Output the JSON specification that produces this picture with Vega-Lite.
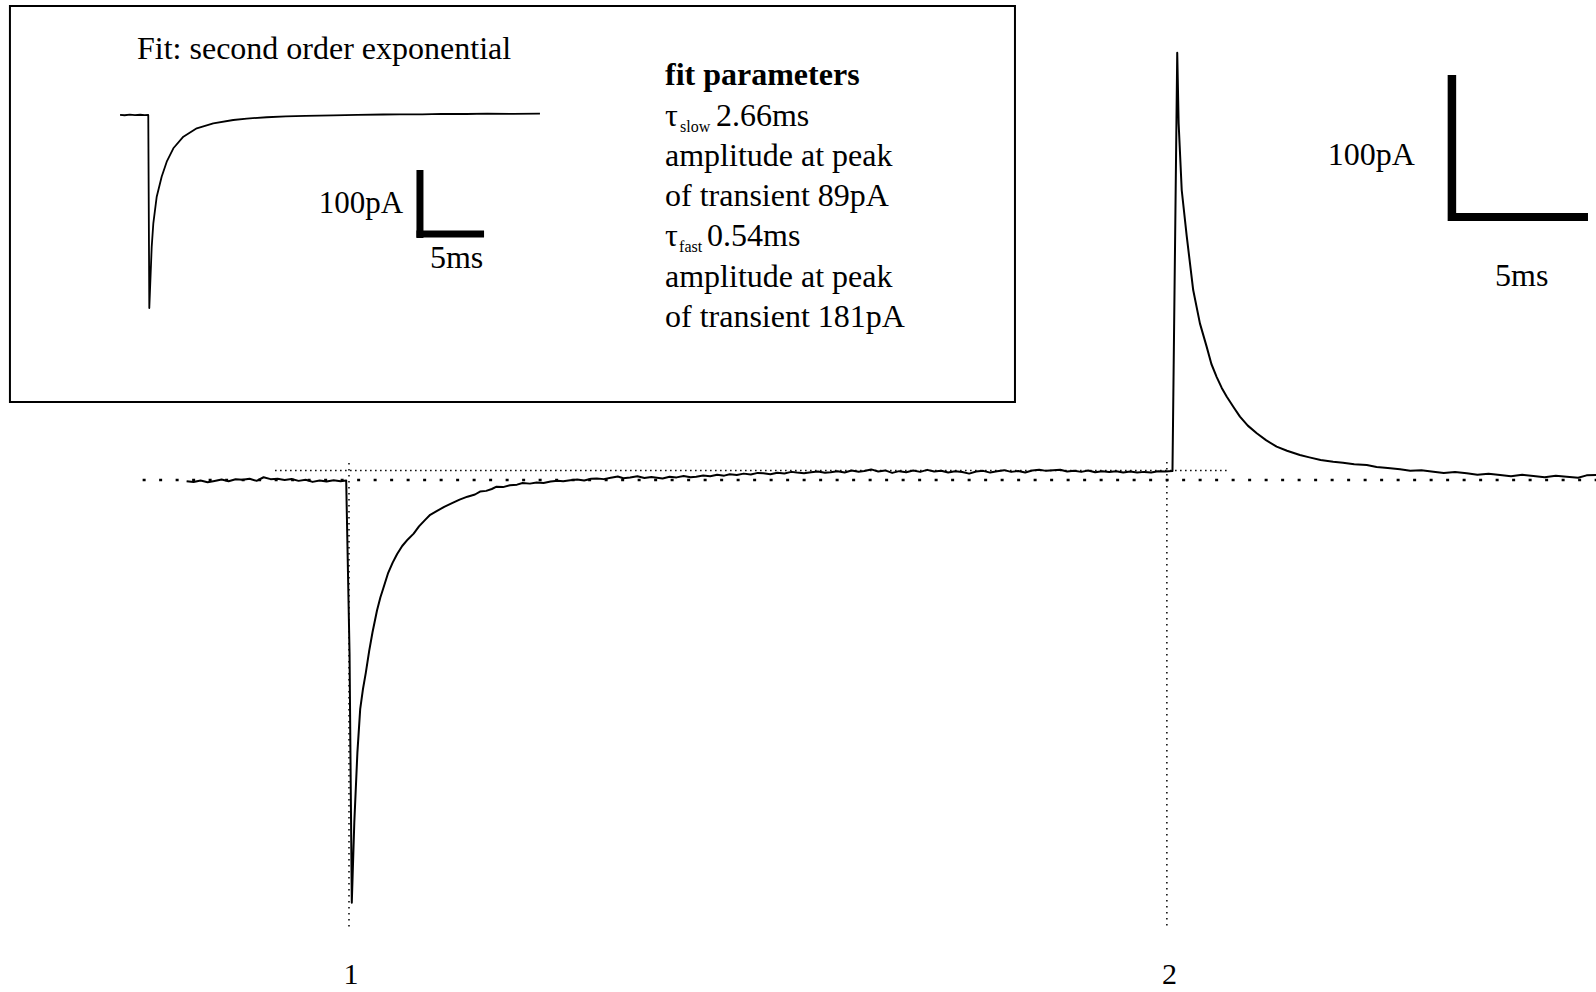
{
"$schema":"https://vega.github.io/schema/vega-lite/v6.json",
"width":1596,"height":992,"padding":0,"autosize":{"type":"none"},
"background":"white",
"config":{"view":{"stroke":null},"font":"Liberation Serif"},
"datasets":{
"main":[
{"t":-5.8,"I":-0.8},{"t":-5.55,"I":-1.4},{"t":-5.3,"I":-0.4},{"t":-5.05,"I":-1.6},{"t":-4.8,"I":-0.7},{"t":-4.55,"I":0.3},{"t":-4.3,"I":-0.9},{"t":-4.05,"I":0.5},{"t":-3.8,"I":0.1},{"t":-3.55,"I":0.9},{"t":-3.3,"I":-0.6},{"t":-3.05,"I":1.9},{"t":-2.8,"I":0.6},{"t":-2.55,"I":0.8},{"t":-2.3,"I":0.0},{"t":-2.05,"I":0.7},{"t":-1.8,"I":-0.6},{"t":-1.55,"I":0.2},{"t":-1.3,"I":-1.3},{"t":-1.05,"I":-0.3},{"t":-0.8,"I":-1.1},{"t":-0.55,"I":-0.2},{"t":-0.3,"I":-0.8},{"t":-0.1,"I":-0.4},
{"t":0.02,"I":-120},{"t":0.1,"I":-291.5},
{"t":0.19,"I":-236},{"t":0.3,"I":-188},{"t":0.4,"I":-158},{"t":0.5,"I":-144},{"t":0.6,"I":-133},{"t":0.72,"I":-118},{"t":0.84,"I":-105},{"t":1.0,"I":-90},{"t":1.12,"I":-81},{"t":1.22,"I":-75},{"t":1.4,"I":-64},{"t":1.56,"I":-57},{"t":1.72,"I":-51},{"t":1.9,"I":-45.5},{"t":2.1,"I":-41},{"t":2.31,"I":-37},{"t":2.5,"I":-32},{"t":2.72,"I":-27.5},{"t":2.9,"I":-24},{"t":3.13,"I":-21.5},{"t":3.4,"I":-18.5},{"t":3.68,"I":-16},{"t":3.95,"I":-13.5},{"t":4.23,"I":-11.5},{"t":4.5,"I":-10},{"t":4.68,"I":-8},{"t":4.9,"I":-7.5},{"t":5.1,"I":-6.2},{"t":5.27,"I":-4.6},{"t":5.5,"I":-4.9},{"t":5.75,"I":-3.6},{"t":6.0,"I":-3.2},{"t":6.2,"I":-2.1},{"t":6.46,"I":-2.5},{"t":6.7,"I":-1.7},{"t":6.95,"I":-2.0},{"t":7.2,"I":-1.1},{"t":7.45,"I":-0.6},{"t":7.65,"I":-0.9},{"t":7.9,"I":-0.1},{"t":8.15,"I":0.4},{"t":8.4,"I":-0.3},{"t":8.65,"I":0.9},{"t":8.85,"I":1.1},{"t":9.1,"I":0.6},{"t":9.35,"I":1.6},{"t":9.6,"I":2.4},{"t":9.8,"I":1.2},{"t":10.04,"I":1.8},{"t":10.3,"I":2.6},{"t":10.55,"I":1.4},{"t":10.8,"I":2.1},{"t":11.0,"I":1.6},{"t":11.2,"I":1.1},{"t":11.45,"I":2.2},{"t":11.7,"I":1.8},{"t":11.95,"I":2.8},{"t":12.2,"I":1.9},{"t":12.4,"I":2.3},{"t":12.65,"I":3.1},{"t":12.9,"I":2.6},{"t":13.15,"I":3.6},{"t":13.4,"I":3.0},{"t":13.6,"I":3.9},{"t":13.85,"I":3.4},{"t":14.1,"I":4.4},{"t":14.35,"I":3.8},{"t":14.6,"I":4.9},{"t":14.8,"I":4.6},{"t":15.05,"I":3.9},{"t":15.3,"I":5.0},{"t":15.55,"I":4.5},{"t":15.8,"I":5.6},{"t":16.0,"I":5.1},{"t":16.25,"I":4.6},{"t":16.5,"I":5.4},{"t":16.75,"I":5.9},{"t":17.0,"I":5.0},{"t":17.2,"I":5.3},{"t":17.45,"I":6.0},{"t":17.7,"I":5.2},{"t":17.95,"I":6.6},{"t":18.2,"I":5.7},{"t":18.4,"I":6.2},{"t":18.65,"I":7.3},{"t":18.9,"I":5.9},{"t":19.15,"I":6.6},{"t":19.4,"I":4.9},{"t":19.65,"I":6.1},{"t":19.9,"I":5.4},{"t":20.15,"I":6.5},{"t":20.4,"I":5.6},{"t":20.65,"I":7.0},{"t":20.9,"I":5.8},{"t":21.15,"I":6.4},{"t":21.4,"I":5.2},{"t":21.65,"I":6.0},{"t":21.9,"I":5.5},{"t":22.15,"I":4.4},{"t":22.4,"I":5.9},{"t":22.65,"I":6.3},{"t":22.9,"I":5.1},{"t":23.15,"I":6.0},{"t":23.4,"I":6.8},{"t":23.65,"I":5.6},{"t":23.9,"I":6.2},{"t":24.15,"I":5.2},{"t":24.4,"I":6.5},{"t":24.65,"I":7.1},{"t":24.9,"I":6.3},{"t":25.15,"I":6.7},{"t":25.4,"I":7.0},{"t":25.65,"I":5.9},{"t":25.9,"I":6.4},{"t":26.15,"I":5.6},{"t":26.4,"I":6.6},{"t":26.65,"I":5.3},{"t":26.9,"I":6.0},{"t":27.15,"I":5.5},{"t":27.4,"I":6.1},{"t":27.65,"I":5.2},{"t":27.9,"I":5.8},{"t":28.15,"I":5.1},{"t":28.4,"I":5.6},{"t":28.65,"I":5.2},{"t":28.9,"I":6.0},{"t":29.15,"I":5.8},{"t":29.41,"I":6.2},
{"t":29.58,"I":294.7},{"t":29.63,"I":246},{"t":29.74,"I":200},{"t":29.92,"I":168},{"t":30.15,"I":131},{"t":30.39,"I":108},{"t":30.63,"I":92},{"t":30.8,"I":80},{"t":30.99,"I":71},{"t":31.17,"I":63.5},{"t":31.35,"I":57.4},{"t":31.6,"I":50},{"t":31.82,"I":43.7},{"t":32.1,"I":37.5},{"t":32.42,"I":32.2},{"t":32.75,"I":27.5},{"t":33.13,"I":23},{"t":33.5,"I":20.2},{"t":33.96,"I":17.2},{"t":34.3,"I":15.6},{"t":34.7,"I":13.8},{"t":35.15,"I":12.6},{"t":35.5,"I":11.9},{"t":35.9,"I":10.8},{"t":36.35,"I":10.3},{"t":36.7,"I":9.0},{"t":37.1,"I":8.2},{"t":37.54,"I":7.4},{"t":37.9,"I":6.4},{"t":38.3,"I":6.8},{"t":38.73,"I":5.7},{"t":39.1,"I":4.9},{"t":39.5,"I":5.5},{"t":39.92,"I":4.6},{"t":40.3,"I":3.6},{"t":40.7,"I":4.3},{"t":41.11,"I":3.4},{"t":41.5,"I":2.6},{"t":41.9,"I":3.6},{"t":42.3,"I":2.8},{"t":42.7,"I":1.9},{"t":43.1,"I":2.9},{"t":43.49,"I":2.3},{"t":43.9,"I":1.5},{"t":44.2,"I":3.2},{"t":44.54,"I":3.4}
],
"inset":[
{"t":-2.25,"I":0.3},{"t":-1.9,"I":-0.4},{"t":-1.5,"I":0.5},{"t":-1.1,"I":-0.2},{"t":-0.7,"I":0.4},{"t":-0.35,"I":-0.3},{"t":-0.08,"I":0.0},{"t":0.0,"I":-297},{"t":0.185,"I":-202.6},{"t":0.31,"I":-166.6},{"t":0.57,"I":-125.7},{"t":0.95,"I":-94.9},{"t":1.34,"I":-71.8},{"t":1.85,"I":-51.2},{"t":2.62,"I":-33.4},{"t":3.65,"I":-20.5},{"t":4.92,"I":-12.8},{"t":6.46,"I":-7.7},{"t":7.5,"I":-5.5},{"t":9.03,"I":-3.5},{"t":10.5,"I":-2.0},{"t":12,"I":-1.4},{"t":14.15,"I":-0.5},{"t":16,"I":0.2},{"t":18,"I":0.8},{"t":19.28,"I":1.1},{"t":21,"I":1.0},{"t":22.5,"I":1.6},{"t":24.4,"I":1.5},{"t":26,"I":2.2},{"t":28,"I":1.7},{"t":30.05,"I":2.0}
]
},
"layer":[
{"layer":[
 {"data":{"values":[{"t":-7.37,"t2":44.54,"I":0}]},
  "mark":{"type":"rule","color":"black","strokeWidth":2.5,"strokeDash":[3,13.5]},
  "encoding":{"x":{"field":"t","type":"quantitative","scale":{"domain":[-12.464,44.536],"nice":false,"zero":false},"axis":null},"x2":{"field":"t2"},"y":{"field":"I","type":"quantitative","scale":{"domain":[-353.1,331.03],"nice":false,"zero":false},"axis":null}}},
 {"data":{"values":[{"t":-2.64,"t2":31.39,"I":6.5}]},
  "mark":{"type":"rule","color":"black","strokeWidth":1.5,"strokeDash":[1.5,3.5]},
  "encoding":{"x":{"field":"t","type":"quantitative","scale":{"domain":[-12.464,44.536],"nice":false,"zero":false},"axis":null},"x2":{"field":"t2"},"y":{"field":"I","type":"quantitative","scale":{"domain":[-353.1,331.03],"nice":false,"zero":false},"axis":null}}},
 {"data":{"values":[{"t":0,"I":11.7,"I2":-309},{"t":29.21,"I":12.4,"I2":-309}]},
  "mark":{"type":"rule","color":"black","strokeWidth":1.5,"strokeDash":[1.5,4.5]},
  "encoding":{"x":{"field":"t","type":"quantitative","scale":{"domain":[-12.464,44.536],"nice":false,"zero":false},"axis":null},"y":{"field":"I","type":"quantitative","scale":{"domain":[-353.1,331.03],"nice":false,"zero":false},"axis":null},"y2":{"field":"I2"}}},
 {"data":{"name":"main"},
  "mark":{"type":"line","color":"black","strokeWidth":2,"strokeJoin":"round"},
  "encoding":{"x":{"field":"t","type":"quantitative","scale":{"domain":[-12.464,44.536],"nice":false,"zero":false},"axis":null},"y":{"field":"I","type":"quantitative","scale":{"domain":[-353.1,331.03],"nice":false,"zero":false},"axis":null}}},
 {"data":{"values":[{"t":39.39,"I":279.3,"I2":178.6}]},
  "mark":{"type":"rule","color":"black","strokeWidth":8.5},
  "encoding":{"x":{"field":"t","type":"quantitative","scale":{"domain":[-12.464,44.536],"nice":false,"zero":false},"axis":null},"y":{"field":"I","type":"quantitative","scale":{"domain":[-353.1,331.03],"nice":false,"zero":false},"axis":null},"y2":{"field":"I2"}}},
 {"data":{"values":[{"t":39.25,"t2":44.25,"I":181.4}]},
  "mark":{"type":"rule","color":"black","strokeWidth":8},
  "encoding":{"x":{"field":"t","type":"quantitative","scale":{"domain":[-12.464,44.536],"nice":false,"zero":false},"axis":null},"x2":{"field":"t2"},"y":{"field":"I","type":"quantitative","scale":{"domain":[-353.1,331.03],"nice":false,"zero":false},"axis":null}}},
 {"data":{"values":[{"label":"100pA","t":34.96,"I":217.2},{"label":"5ms","t":40.93,"I":133.8}]},
  "mark":{"type":"text","font":"Liberation Serif","fontSize":32,"align":"left","baseline":"alphabetic","color":"black"},
  "encoding":{"text":{"field":"label"},"x":{"field":"t","type":"quantitative","scale":{"domain":[-12.464,44.536],"nice":false,"zero":false},"axis":null},"y":{"field":"I","type":"quantitative","scale":{"domain":[-353.1,331.03],"nice":false,"zero":false},"axis":null}}},
 {"data":{"values":[{"label":"1","t":0.07,"I":-347.6},{"label":"2","t":29.3,"I":-347.6}]},
  "mark":{"type":"text","font":"Liberation Serif","fontSize":30,"align":"center","baseline":"alphabetic","color":"black"},
  "encoding":{"text":{"field":"label"},"x":{"field":"t","type":"quantitative","scale":{"domain":[-12.464,44.536],"nice":false,"zero":false},"axis":null},"y":{"field":"I","type":"quantitative","scale":{"domain":[-353.1,331.03],"nice":false,"zero":false},"axis":null}}}
]},
{"layer":[
 {"data":{"values":[{"t":-10.72,"t2":66.59,"I":167.7,"I2":-441.5}]},
  "mark":{"type":"rect","filled":false,"stroke":"black","strokeWidth":2},
  "encoding":{"x":{"field":"t","type":"quantitative","scale":{"domain":[-11.485,111.285],"nice":false,"zero":false},"axis":null},"x2":{"field":"t2"},"y":{"field":"I","type":"quantitative","scale":{"domain":[-1349.23,176.92],"nice":false,"zero":false},"axis":null},"y2":{"field":"I2"}}},
 {"data":{"name":"inset"},
  "mark":{"type":"line","color":"black","strokeWidth":1.8,"strokeJoin":"round"},
  "encoding":{"x":{"field":"t","type":"quantitative","scale":{"domain":[-11.485,111.285],"nice":false,"zero":false},"axis":null},"y":{"field":"I","type":"quantitative","scale":{"domain":[-1349.23,176.92],"nice":false,"zero":false},"axis":null}}},
 {"data":{"values":[{"t":20.82,"I":-84.6,"I2":-189.2}]},
  "mark":{"type":"rule","color":"black","strokeWidth":7},
  "encoding":{"x":{"field":"t","type":"quantitative","scale":{"domain":[-11.485,111.285],"nice":false,"zero":false},"axis":null},"y":{"field":"I","type":"quantitative","scale":{"domain":[-1349.23,176.92],"nice":false,"zero":false},"axis":null},"y2":{"field":"I2"}}},
 {"data":{"values":[{"t":20.55,"t2":25.75,"I":-183.1}]},
  "mark":{"type":"rule","color":"black","strokeWidth":7},
  "encoding":{"x":{"field":"t","type":"quantitative","scale":{"domain":[-11.485,111.285],"nice":false,"zero":false},"axis":null},"x2":{"field":"t2"},"y":{"field":"I","type":"quantitative","scale":{"domain":[-1349.23,176.92],"nice":false,"zero":false},"axis":null}}},
 {"data":{"values":[{"label":"Fit: second order exponential","t":-0.946,"I":86.15},{"label":"τ","t":39.67,"I":-16.9},{"label":"2.66ms","t":43.59,"I":-16.9},{"label":"amplitude at peak","t":39.67,"I":-78.5},{"label":"of transient 89pA","t":39.67,"I":-140},{"label":"τ","t":39.67,"I":-201.5},{"label":"0.54ms","t":42.9,"I":-201.5},{"label":"amplitude at peak","t":39.67,"I":-264.6},{"label":"of transient 181pA","t":39.67,"I":-326.2},{"label":"5ms","t":21.59,"I":-235.4}]},
  "mark":{"type":"text","font":"Liberation Serif","fontSize":32,"align":"left","baseline":"alphabetic","color":"black"},
  "encoding":{"text":{"field":"label"},"x":{"field":"t","type":"quantitative","scale":{"domain":[-11.485,111.285],"nice":false,"zero":false},"axis":null},"y":{"field":"I","type":"quantitative","scale":{"domain":[-1349.23,176.92],"nice":false,"zero":false},"axis":null}}},
 {"data":{"values":[{"label":"100pA","t":19.52,"I":-150.8}]},
  "mark":{"type":"text","font":"Liberation Serif","fontSize":31,"align":"right","baseline":"alphabetic","color":"black"},
  "encoding":{"text":{"field":"label"},"x":{"field":"t","type":"quantitative","scale":{"domain":[-11.485,111.285],"nice":false,"zero":false},"axis":null},"y":{"field":"I","type":"quantitative","scale":{"domain":[-1349.23,176.92],"nice":false,"zero":false},"axis":null}}},
 {"data":{"values":[{"label":"fit parameters","t":39.67,"I":46.15}]},
  "mark":{"type":"text","font":"Liberation Serif","fontSize":32,"fontWeight":"bold","align":"left","baseline":"alphabetic","color":"black"},
  "encoding":{"text":{"field":"label"},"x":{"field":"t","type":"quantitative","scale":{"domain":[-11.485,111.285],"nice":false,"zero":false},"axis":null},"y":{"field":"I","type":"quantitative","scale":{"domain":[-1349.23,176.92],"nice":false,"zero":false},"axis":null}}},
 {"data":{"values":[{"label":"slow","t":40.82,"I":-26.2},{"label":"fast","t":40.75,"I":-210.8}]},
  "mark":{"type":"text","font":"Liberation Serif","fontSize":16,"align":"left","baseline":"alphabetic","color":"black"},
  "encoding":{"text":{"field":"label"},"x":{"field":"t","type":"quantitative","scale":{"domain":[-11.485,111.285],"nice":false,"zero":false},"axis":null},"y":{"field":"I","type":"quantitative","scale":{"domain":[-1349.23,176.92],"nice":false,"zero":false},"axis":null}}}
]}
],
"resolve":{"scale":{"x":"independent","y":"independent"}}
}
